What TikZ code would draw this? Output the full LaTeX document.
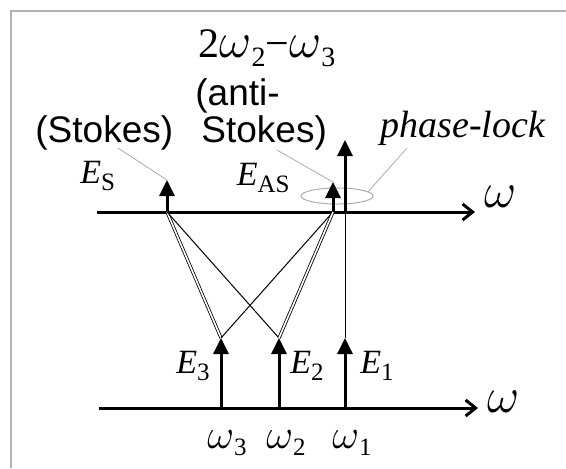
\documentclass[tikz,border=0pt]{standalone}
\usepackage{fontspec}
\setmainfont{Liberation Serif}
\setsansfont{Liberation Sans}
\usetikzlibrary{arrows.meta,positioning,shapes.geometric}
\newcommand{\lo}[2][12.5]{\raisebox{-0.22em}{\fontsize{#1}{#1}\selectfont\upshape #2}}
\newcommand{\om}[1][21]{{\fontsize{#1}{#1}\selectfont$\omega$}}

\begin{document}
\begin{tikzpicture}[
    x=0.5pt, y=-0.5pt,
    >={Triangle[length=8pt,width=7.5pt]},
    axis/.style ={line width=1.5pt, -{Straight Barb[length=5pt,width=8pt]}},
    field/.style={line width=1.5pt, ->},
    mix/.style  ={line width=0.5pt},
    pair/.style ={line width=0.4pt, double, double distance=0.8pt},
    lead/.style ={gray!65, line width=0.4pt},
    lab/.style  ={inner sep=0pt, font=\fontsize{17}{17}\selectfont\itshape},
    big/.style  ={inner sep=0pt, font=\fontsize{19}{19}\selectfont\itshape},
    txt/.style  ={inner sep=0pt, font=\fontsize{18.5}{18.5}\selectfont\sffamily}
]
\useasboundingbox (0,0) rectangle (566,468);
\draw[black!30, line width=1pt] (566,11) -- (11,11) -- (11,468);
% --- axes ---------------------------------------------------------------
\coordinate (top0) at (97,212);
\coordinate (top1) at (475,212);
\coordinate (bot0) at (99,408);
\coordinate (bot1) at (478,408);
\node[ellipse, draw=gray!65, line width=0.5pt, minimum width=36pt,
      minimum height=8pt, inner sep=0pt] (lock) at (337,196) {};
\draw[axis] (top0) -- (top1);
\draw[axis] (bot0) -- (bot1);
% --- input fields -------------------------------------------------------
\foreach \n/\x in {3/221, 2/279, 1/345} {
    \coordinate (b\n) at (\x,408);
    \coordinate (t\n) at (\x,338);
    \draw[field] (b\n) -- (t\n);
}
% --- generated fields ---------------------------------------------------
\coordinate (sb)  at (167,212);
\coordinate (st)  at (167,180);
\coordinate (ab)  at (333,212);
\coordinate (ast) at (333,182);
\coordinate (pb)  at (345,212);
\coordinate (pt)  at (345,140);
\draw[field] (sb) -- (st);
\draw[field] (ab) -- (ast);
\draw[field] (pb) -- (pt);
% --- mixing paths -------------------------------------------------------
\draw[pair] (sb) -- (t3);
\draw[mix]  (sb) -- (t2);
\draw[mix]  (ab) -- (t3);
\draw[pair] (ab) -- (t2);
\draw[mix]  (t1) -- (pb);
% --- labels -------------------------------------------------------------
\node[lab, anchor=base west] (es)  at (80,183)  {E\lo{S}};
\node[lab, anchor=base east] (eas) at (290,185) {E\lo{AS}};
\node[lab, anchor=base east] (e3)  at (210,373) {E\lo{3}};
\node[lab, anchor=base west] (e2)  at (290,373) {E\lo{2}};
\node[lab, anchor=base west] (e1)  at (360,373) {E\lo{1}};
\foreach \n/\x in {3/207, 2/266, 1/332}
    \node[lab, anchor=base west] (w\n) at (\x,448) {\om\lo{\n}};
\node[lab, anchor=base west] (wtop) at (484,207) {\om[26]};
\node[lab, anchor=base west] (wbot) at (487,412) {\om[26]};
\node[big, font=\fontsize{21}{21}\selectfont\itshape, anchor=base west] (diff) at (198,57)
    {{\upshape 2}\om[24]\lo[14]{2}{\upshape −}\om[24]\lo[14]{3}};
\node[txt, anchor=base west] (anti)   at (195,105) {(anti-};
\node[txt, anchor=base west] (antis)  at (201,142) {Stokes)};
\node[txt, anchor=base west] (stokes) at (35,142)  {(Stokes)};
\node[big, anchor=base west] (plock)  at (380,137) {phase-lock};
% --- leaders ------------------------------------------------------------
\coordinate (sl) at (118,148);
\coordinate (al) at (277,150);
\coordinate (pl) at (407,148);
\draw[lead] (sl) -- (st);
\draw[lead] (al) -- (ast);
\draw[lead] (pl) -- (lock.8);
\end{tikzpicture}
\end{document}
